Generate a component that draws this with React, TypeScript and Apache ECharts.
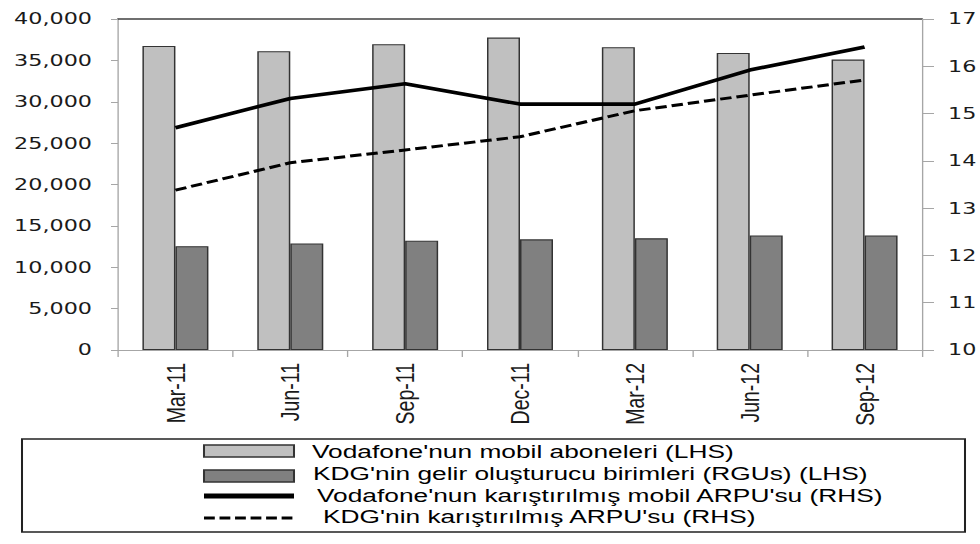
import React, { useEffect, useRef } from "react";
import * as echarts from "echarts";

const categories = ["Mar-11", "Jun-11", "Sep-11", "Dec-11", "Mar-12", "Jun-12", "Sep-12"];
const vodafoneSubscribers = [36750, 36100, 36950, 37750, 36600, 35900, 35100];
const kdgRGUs = [12550, 12880, 13200, 13370, 13500, 13850, 13850];
const vodafoneARPU = [14.7, 15.32, 15.63, 15.2, 15.2, 15.92, 16.41];
const kdgARPU = [13.38, 13.96, 14.23, 14.51, 15.06, 15.39, 15.71];

const leftTicks = { min: 0, max: 40000, interval: 5000 };
const rightTicks = { min: 10, max: 17, interval: 1 };

const seriesNames = [
  "Vodafone'nun mobil aboneleri (LHS)",
  "KDG'nin gelir oluşturucu birimleri (RGUs) (LHS)",
  "Vodafone'nun karıştırılmış mobil ARPU'su (RHS)",
  "KDG'nin karıştırılmış ARPU'su (RHS)",
];

const W = 726;
const H = 544;
const SX = 980 / W;

export default function App() {
  const ref = useRef<HTMLDivElement>(null);

  useEffect(() => {
    if (!ref.current) return;
    const chart = echarts.init(ref.current, null, { renderer: "svg" });
    const axisGray = "#a6a6a6";
    const labelFont = "DejaVu Sans";
    const legendFont = "'Liberation Sans', Arial, sans-serif";
    const bx = (x: number) => x / SX;
    const legendSize = 18.5;

    const legendText = (text: string, x: number, y: number) => ({
      type: "text",
      x: bx(x),
      y,
      scaleX: 19.5 / legendSize,
      style: {
        text,
        fill: "#000",
        font: `${legendSize}px ${legendFont}`,
        textAlign: "left",
        textVerticalAlign: "middle",
        verticalAlign: "middle",
      },
    });

    chart.setOption({
      animation: false,
      backgroundColor: "#fff",
      grid: {
        left: bx(118),
        right: W - bx(922),
        top: 19,
        bottom: H - 350,
        outerBoundsMode: "none",
      },
      xAxis: [
        {
          type: "category",
          data: categories,
          axisLine: { lineStyle: { color: axisGray, width: 1 } },
          axisTick: { show: true, length: 7, lineStyle: { color: axisGray } },
          axisLabel: {
            rotate: 90,
            interval: 0,
            margin: 13,
            color: "#1a1a1a",
            fontFamily: legendFont,
            fontSize: 19.5,
          },
          splitLine: { show: false },
        },
        {
          type: "category",
          data: categories,
          position: "top",
          axisLine: { lineStyle: { color: "#404040", width: 1.5 } },
          axisTick: { show: false },
          axisLabel: { show: false },
          splitLine: { show: false },
        },
      ],
      yAxis: [
        {
          type: "value",
          min: leftTicks.min,
          max: leftTicks.max,
          interval: leftTicks.interval,
          axisLine: { show: true, lineStyle: { color: axisGray, width: 1 } },
          axisTick: { show: true, length: bx(7), lineStyle: { color: axisGray } },
          splitLine: { show: false },
          axisLabel: {
            margin: bx(26),
            color: "#1a1a1a",
            fontFamily: labelFont,
            fontSize: 16.5,
            formatter: (v: number) => v.toLocaleString("en-US"),
          },
        },
        {
          type: "value",
          position: "right",
          min: rightTicks.min,
          max: rightTicks.max,
          interval: rightTicks.interval,
          axisLine: { show: true, lineStyle: { color: axisGray, width: 1 } },
          axisTick: { show: true, length: bx(12), lineStyle: { color: axisGray } },
          splitLine: { show: false },
          axisLabel: {
            margin: bx(26),
            color: "#1a1a1a",
            fontFamily: labelFont,
            fontSize: 16.5,
          },
        },
      ],
      series: [
        {
          name: seriesNames[0],
          type: "bar",
          data: vodafoneSubscribers,
          barWidth: bx(33),
          barGap: "0%",
          itemStyle: { color: "#c0c0c0", borderColor: "#333", borderWidth: 1.1 },
        },
        {
          name: seriesNames[1],
          type: "bar",
          data: kdgRGUs,
          barWidth: bx(33),
          barGap: "0%",
          itemStyle: { color: "#808080", borderColor: "#333", borderWidth: 1.1 },
        },
        {
          name: seriesNames[2],
          type: "line",
          yAxisIndex: 1,
          data: vodafoneARPU,
          symbol: "none",
          lineStyle: { color: "#000", width: 3.6, type: "solid" },
          z: 5,
        },
        {
          name: seriesNames[3],
          type: "line",
          yAxisIndex: 1,
          data: kdgARPU,
          symbol: "none",
          lineStyle: { color: "#000", width: 3, type: [8.5, 3.7] },
          z: 5,
        },
      ],
      graphic: [
        {
          type: "rect",
          shape: { x: bx(22), y: 439, width: bx(965) - bx(22), height: 93 },
          style: { fill: "#fff", stroke: "#222", lineWidth: 1.5 },
        },
        {
          type: "rect",
          shape: { x: bx(204), y: 445, width: bx(294) - bx(204), height: 12 },
          style: { fill: "#c0c0c0", stroke: "#333", lineWidth: 1.5 },
        },
        {
          type: "rect",
          shape: { x: bx(204), y: 470, width: bx(294) - bx(204), height: 12 },
          style: { fill: "#808080", stroke: "#333", lineWidth: 1.5 },
        },
        {
          type: "line",
          shape: { x1: bx(204), y1: 496, x2: bx(294), y2: 496 },
          style: { stroke: "#000", lineWidth: 5 },
        },
        {
          type: "line",
          shape: { x1: bx(204), y1: 518, x2: bx(294), y2: 518 },
          style: { stroke: "#000", lineWidth: 3, lineDash: [8, 3.5] },
        },
        legendText(seriesNames[0], 312, 451),
        legendText(seriesNames[1], 313, 473.5),
        legendText(seriesNames[2], 317, 495),
        legendText(seriesNames[3], 323, 516.5),
      ],
    });
    return () => chart.dispose();
  }, []);

  return (
    <div
      style={{
        position: "absolute",
        left: 0,
        top: 0,
        width: W,
        height: H,
        transform: `scaleX(${SX})`,
        transformOrigin: "0 0",
      }}
    >
      <div ref={ref} style={{ width: W, height: H }} />
    </div>
  );
}
